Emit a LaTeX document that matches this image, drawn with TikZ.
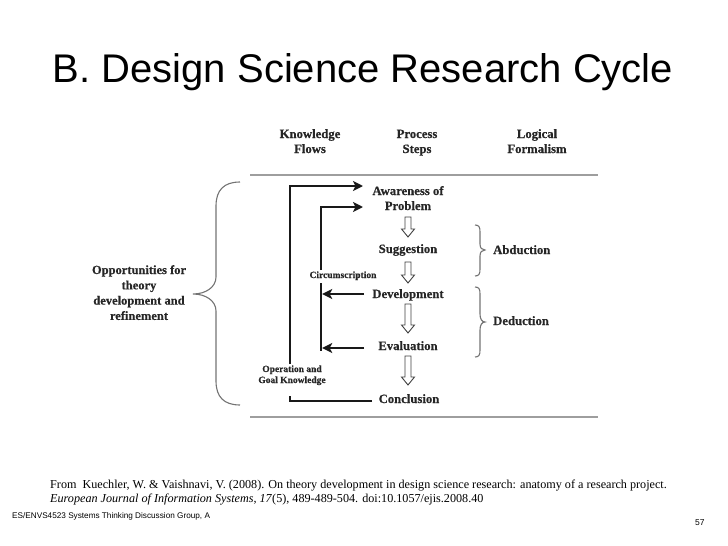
\documentclass[tikz,border=0pt]{standalone}
\usepackage{fontspec}
\setmainfont{Liberation Serif}
\newfontfamily\arialfont{Liberation Sans}
\newfontfamily\diagfont[BoldFeatures={FakeBold=0.5}]{Liberation Serif}
\usetikzlibrary{arrows.meta,calc}
\newcommand{\stackc}[1]{\begin{tabular}[t]{@{}c@{}}#1\end{tabular}}
\begin{document}
\begin{tikzpicture}[x=1pt,y=-1pt,
  txt/.style={inner sep=0pt, anchor=base, text=black!85},
  stepbox/.style={txt, font=\diagfont\bfseries\fontsize{12.7}{15}\selectfont},
  smalltxt/.style={txt, font=\diagfont\bfseries\fontsize{9.5}{11}\selectfont},
  flow/.style={line width=2.4pt, draw=black!90},
  tipr/.style={-{Stealth[length=10pt,width=10pt,inset=2.5pt]}},
  rule/.style={line width=2.5pt, draw=black!38},
  brace/.style={line width=1.1pt, draw=black!55},
  hollow/.style={line width=0.9pt, draw=black!75, fill=white, line join=miter}
]
\useasboundingbox (0,0) rectangle (728,546);

% title
\node[txt, text=black, font=\arialfont\fontsize{40}{48}\selectfont] (title) at (363,82) {B. Design Science Research Cycle};

% header
\node[stepbox] (kf) at (310,138) {\stackc{Knowledge\\Flows}};
\node[stepbox] (ps) at (417,138) {\stackc{Process\\Steps}};
\node[stepbox] (lf) at (537,138) {\stackc{Logical\\Formalism}};
\coordinate (r1a) at (250,175); \coordinate (r1b) at (598,175);
\draw[rule] (r1a) -- (r1b);
\coordinate (r2a) at (250,417); \coordinate (r2b) at (598,417);
\draw[rule] (r2a) -- (r2b);

% process steps
\node[stepbox] (aw) at (408,195) {\stackc{Awareness of\\Problem}};
\node[stepbox] (sug) at (408,253) {Suggestion};
\node[stepbox] (dev) at (408,298) {Development};
\node[stepbox] (eva) at (408,350) {Evaluation};
\node[stepbox] (con) at (409,403) {Conclusion};

% hollow arrows
\newcommand{\hollowdown}[2]{%
  \draw[hollow] (405,#1) -- (411,#1) -- (411,{#2-8}) -- (414.5,{#2-8}) -- (408,#2)
     -- (401.5,{#2-8}) -- (405,{#2-8}) -- cycle;}
\hollowdown{217}{237}
\hollowdown{262}{283}
\hollowdown{304}{333}
\hollowdown{356}{385}

% knowledge flows
\node[smalltxt] (circ) at (343,278) {Circumscription};
\node[smalltxt] (opg) at (292,372) {\stackc{Operation and\\*Goal Knowledge}};

\coordinate (conL) at (372,401);
\coordinate (oB) at (290,401);
\coordinate (oG1) at (290,396);
\coordinate (oG2) at (290,364);
\coordinate (oT) at (290,186);
\coordinate (awT) at (363,186);
\draw[flow] (conL) -- (oB) -- (oG1);
\draw[flow, tipr] (oG2) -- (oT) -- (awT);

\coordinate (iG1) at (321,270);
\coordinate (iT) at (321,207);
\coordinate (awB) at (363,207);
\coordinate (iG2) at (321,283);
\coordinate (iB) at (321,351);
\draw[flow, tipr] (iG1) -- (iT) -- (awB);
\draw[flow] (iG2) -- (iB);

\coordinate (devL) at (364,294);
\coordinate (evaL) at (364,348);
\draw[flow, tipr] (devL) -- ($(devL -| iB)+(1.2,0)$);
\draw[flow, tipr] (evaL) -- ($(evaL -| iB)+(1.2,0)$);

% logical formalism braces
\draw[brace] (475,225) .. controls (479,225) and (480,227) .. (480,232) -- (480,244)
  .. controls (480,248) and (482,250) .. (485,250)
  .. controls (482,250) and (480,252) .. (480,256) -- (480,269)
  .. controls (480,274) and (479,276) .. (475,276);
\node[stepbox, anchor=base west] (abd) at (493,254) {Abduction};
\draw[brace] (475,287) .. controls (479,287) and (480,289) .. (480,294) -- (480,314)
  .. controls (480,319) and (482,322) .. (485,322)
  .. controls (482,322) and (480,325) .. (480,330) -- (480,350)
  .. controls (480,355) and (479,357) .. (475,357);
\node[stepbox, anchor=base west] (ded) at (493,325) {Deduction};

% big left brace
\draw[brace] (240,182) .. controls (224,182) and (216,190) .. (216,206) -- (216,277)
  .. controls (216,287) and (206,294) .. (193,294)
  .. controls (206,294) and (216,301) .. (216,311) -- (216,381)
  .. controls (216,397) and (224,405) .. (240,405);
\node[txt, font=\diagfont\bfseries\fontsize{12.5}{15.3}\selectfont] (opp) at (139,274)
  {\stackc{Opportunities for\\theory\\development and\\refinement}};

% footer
\node[txt, anchor=base west, text=black, font=\fontsize{12.15}{15}\selectfont] (ref1) at (50,488)
  {From\ \ Kuechler, W. \& Vaishnavi, V. (2008). On theory development in design science research: anatomy of a research project.};
\node[txt, anchor=base west, text=black, font=\fontsize{12.15}{15}\selectfont] (ref2) at (50,502)
  {\textit{European Journal of Information Systems}, \textit{17}(5), 489-489-504. doi:10.1057/ejis.2008.40};
\node[txt, anchor=base west, text=black, font=\arialfont\fontsize{8.2}{10}\selectfont] (foot) at (12,518)
  {ES/ENVS4523 Systems Thinking Discussion Group, A};
\node[txt, anchor=base west, text=black, font=\arialfont\fontsize{8.5}{10}\selectfont] (pg) at (695,525) {57};
\end{tikzpicture}
\end{document}
